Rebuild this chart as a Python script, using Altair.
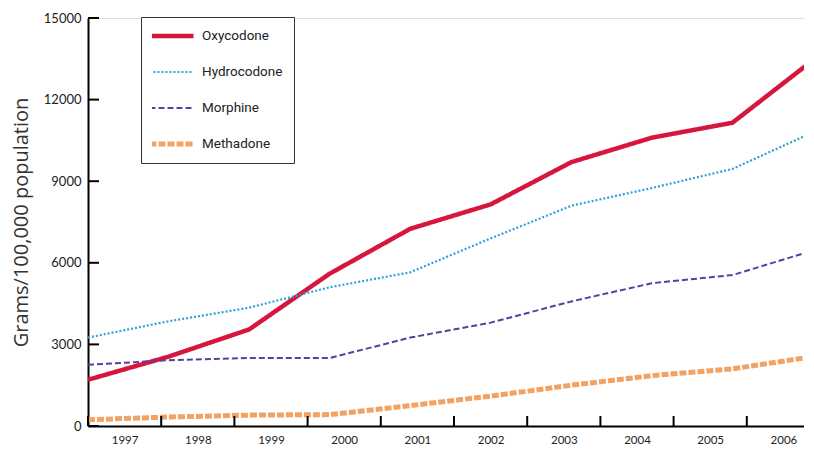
import altair as alt
import pandas as pd

years = [1997, 1998, 1999, 2000, 2001, 2002, 2003, 2004, 2005, 2006]
drugs = ["Oxycodone", "Hydrocodone", "Morphine", "Methadone"]
oxycodone = [1700, 2550, 3550, 5600, 7250, 8150, 9700, 10600, 11150, 13450]
hydrocodone = [3250, 3850, 4350, 5100, 5650, 6900, 8100, 8750, 9450, 10800]
morphine = [2250, 2420, 2500, 2500, 3250, 3800, 4580, 5250, 5550, 6450]
methadone = [230, 330, 400, 420, 750, 1100, 1500, 1850, 2100, 2550]
y_ticks = [0, 3000, 6000, 9000, 12000, 15000]

colors = ["#d7163e", "#2e9fd8", "#5a3f9c", "#f2a262"]
dashes = [[1, 0], [2, 2], [6, 3], [7, 2]]
widths = [4.5, 2.2, 2, 5]

series = {"Oxycodone": oxycodone, "Hydrocodone": hydrocodone,
          "Morphine": morphine, "Methadone": methadone}
rows = []
for d in drugs:
    for y, v in zip(years, series[d]):
        rows.append({"drug": d, "yr": y, "value": v})
df = pd.DataFrame(rows)
ticks_df = pd.DataFrame({"value": y_ticks})
years_df = pd.DataFrame({"year": years})

H = 408
W = 716
LINE_SPAN = 9 * W / 725.0   # data points: 2006 falls at the right edge
AXIS_SPAN = W / 73.2        # axis: one year band every 73.2 px
TITLE = "Grams/100,000 population"
yscale = alt.Scale(domain=[0, 15000], nice=False, zero=True)

leg = alt.Legend(
    title=None, orient="none", legendX=53, legendY=-1,
    symbolType="stroke", symbolSize=1936, clipHeight=16, rowPadding=20,
    padding=11, labelOffset=6, symbolOffset=-5,
    strokeColor="#333333", fillColor="white",
    labelFont="Roboto", labelFontSize=13.5, labelColor="#222222",
)

lines = alt.Chart(df).mark_line(strokeCap="butt", strokeJoin="round", clip=True).encode(
    x=alt.X("yr:Q", scale=alt.Scale(domain=[1997, 1997 + LINE_SPAN], nice=False, zero=False),
            axis=None),
    y=alt.Y("value:Q", scale=yscale, title=TITLE,
            axis=alt.Axis(values=y_ticks, format="d", ticks=False, grid=False,
                          domainColor="black", domainWidth=2,
                          labelFont="Lato", labelFontSize=13, labelColor="#222222",
                          labelPadding=7, titleFont="Open Sans", titleFontSize=20,
                          titleFontWeight="normal", titleColor="#333333",
                          titlePadding=12)),
    color=alt.Color("drug:N", scale=alt.Scale(domain=drugs, range=colors), legend=leg),
    strokeDash=alt.StrokeDash("drug:N", scale=alt.Scale(domain=drugs, range=dashes), legend=leg),
    strokeWidth=alt.StrokeWidth("drug:N", scale=alt.Scale(type="ordinal", domain=drugs, range=widths), legend=leg),
)

yt = alt.Chart(ticks_df).mark_rule(color="black", strokeWidth=2).encode(
    y=alt.Y("value:Q", scale=yscale, title=TITLE),
    x=alt.value(0), x2=alt.value(11),
)

xt = alt.Chart(years_df).mark_rule(color="black", strokeWidth=2).encode(
    x=alt.X("year:Q",
            scale=alt.Scale(domain=[1997, 1997 + AXIS_SPAN], nice=False, zero=False),
            axis=alt.Axis(title=None, orient="bottom", ticks=False, grid=False,
                          values=[y + 0.5 for y in years], labelExpr="floor(datum.value)",
                          domainColor="black", domainWidth=2, labelAngle=0,
                          labelFont="Lato", labelFontSize=11.5, labelColor="#222222",
                          labelPadding=8, labelFlush=False, labelOverlap=False)),
    y=alt.value(H), y2=alt.value(H - 10),
)

chart = alt.layer(lines, yt, xt).resolve_scale(x="independent").properties(
    width=W, height=H,
    padding={"left": 3, "top": 4, "right": 0, "bottom": 2},
).configure_view(stroke=None).configure(background="white")

chart.save("out.html", embed_options={"renderer": "svg", "actions": False})
